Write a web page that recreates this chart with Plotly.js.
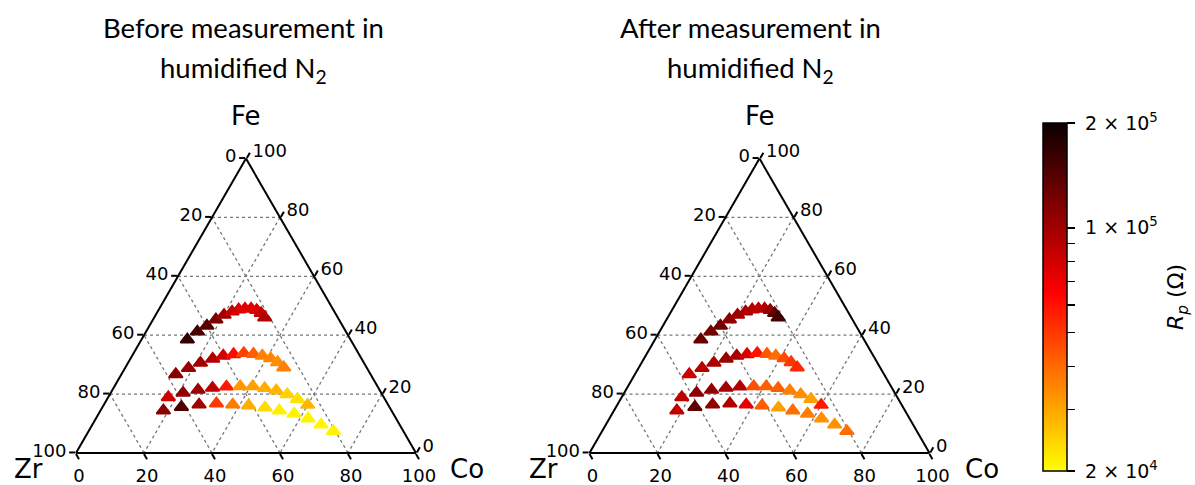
<!DOCTYPE html>
<html><head><meta charset="utf-8">
<script src="https://cdn.plot.ly/plotly-3.0.1.min.js"></script>
<style>html,body{margin:0;padding:0;background:#fff}#chart{width:1195px;height:485px}</style>
</head><body><div id="chart"></div>
<script>
// Compositions (at.%) of the 48 measured spots, rows from top arc to bottom arc
const feAt = [38.5, 41.2, 43.2, 45.3, 46.9, 48.0, 48.7, 49.0, 49.0, 48.5, 47.5, 46.0,
              26.7, 28.8, 30.6, 32.0, 33.0, 33.5, 33.9, 33.6, 33.0, 32.1, 30.8, 29.0,
              18.9, 20.4, 21.4, 22.1, 22.5, 22.6, 22.6, 22.0, 21.2, 19.9, 18.3, 16.3,
              14.4, 15.6, 16.4, 16.8, 16.4, 16.1, 15.4, 14.4, 13.3, 11.7, 9.6, 7.4];
const coAt = [13.5, 15.1, 16.9, 18.5, 20.1, 21.9, 23.5, 25.2, 27.0, 28.9, 30.7, 32.5,
              16.0, 18.7, 21.3, 24.2, 26.8, 29.6, 32.4, 35.4, 38.3, 41.2, 43.9, 46.6,
              17.7, 21.3, 25.2, 29.1, 33.0, 37.0, 40.7, 44.5, 48.3, 52.2, 56.0, 60.0,
              18.5, 23.2, 28.0, 32.9, 37.9, 42.7, 47.9, 52.6, 57.5, 62.4, 67.3, 72.0];
const zrAt = [48.0, 43.7, 39.9, 36.2, 33.0, 30.1, 27.8, 25.8, 24.0, 22.6, 21.8, 21.5,
              57.3, 52.5, 48.1, 43.8, 40.2, 36.9, 33.7, 31.0, 28.7, 26.7, 25.3, 24.4,
              63.4, 58.3, 53.4, 48.8, 44.5, 40.4, 36.7, 33.5, 30.5, 27.9, 25.7, 23.7,
              67.1, 61.2, 55.6, 50.3, 45.7, 41.2, 36.7, 33.0, 29.2, 25.9, 23.1, 20.6];
// Polarisation resistance Rp (ohm)
const rpBefore = [165000, 150000, 140000, 118000, 100000, 85000, 78000, 74000, 74000, 77000, 85000, 92000,
                  111000, 104000, 100000, 93000, 80000, 62000, 48000, 42000, 36000, 35000, 33500, 36000,
                  80000, 108000, 102000, 88000, 58000, 32000, 31000, 29000, 28000, 24500, 23000, 28000,
                  112000, 145000, 100000, 50000, 37000, 29000, 23500, 21500, 21000, 21000, 20800, 21000];
const rpAfter = [130000, 125000, 124000, 108000, 100000, 96000, 91000, 88000, 92000, 106000, 135000, 155000,
                 82000, 90000, 96000, 103000, 98000, 76000, 60000, 43000, 39000, 46000, 50000, 54000,
                 87000, 108000, 106000, 100000, 92000, 45000, 42000, 42000, 36000, 33500, 31000, 58000,
                 87000, 135000, 108000, 93000, 72000, 42000, 31000, 39000, 36000, 33000, 33000, 39000];
const axisTickVals = [0, 20, 40, 60, 80, 100];
const axisTickText = ['100', '80', '60', '40', '20', '0'];
const cbTickVals = [20000, 30000, 40000, 50000, 60000, 70000, 80000, 90000, 100000, 200000];
const cbTickText = ['2 × 10<sup>4</sup>', '', '', '', '', '', '', '', '1 × 10<sup>5</sup>', '2 × 10<sup>5</sup>'];
const titleLine1 = ['Before measurement in', 'After measurement in'];
const titleLine2 = 'humidified N<sub>2</sub>';
const cornerNames = ['Fe', 'Zr', 'Co'];
const cbTitle = '<i>R</i><sub><i>p</i></sub> (Ω)';

const F = 'DejaVu Sans';
function axis() {
  return {
    title: {text: ''},
    min: 0, linecolor: '#000', linewidth: 2,
    showgrid: true, gridcolor: '#777777', gridwidth: 1.3, griddash: 'dot',
    ticks: 'outside', ticklen: 6, tickwidth: 2, tickcolor: '#000',
    tickmode: 'array', tickvals: axisTickVals, ticktext: axisTickText,
    tickfont: {family: F, size: 18, color: '#000'}
  };
}
function tern(dx) {
  return {sum: 100, bgcolor: '#fff', domain: {x: dx, y: [0.0396, 0.6996]},
          aaxis: axis(), baxis: axis(), caxis: axis()};
}
function trace(rp, sub) {
  const v = rp.map(Math.log10);
  return {type: 'scatterternary', mode: 'markers', subplot: sub,
          a: feAt, b: zrAt, c: coAt,
          marker: {symbol: 'triangle-up', size: 12, color: v, coloraxis: 'coloraxis',
                   line: {width: 1.8, color: v, coloraxis: 'coloraxis'}},
          hoverinfo: 'skip'};
}
function ann(text, x, y, font, extra) {
  return Object.assign({text: text, x: x / 1195, y: 1 - y / 485, xref: 'paper', yref: 'paper',
          xanchor: 'center', yanchor: 'middle', showarrow: false, font: font}, extra || {});
}
const titleFont = {family: 'Lato', size: 27.5, color: '#000'};
const cornerFont = {family: F, size: 26, color: '#000'};
const layout = {
  width: 1195, height: 485, margin: {l: 0, r: 0, t: 0, b: 0},
  paper_bgcolor: '#fff', showlegend: false,
  ternary: tern([0.0636, 0.3481]),
  ternary2: tern([0.4933, 0.7778]),
  coloraxis: {
    cmin: Math.log10(20000), cmax: Math.log10(200000),
    colorscale: [[0, 'rgb(255,255,0)'], [0.511, 'rgb(255,0,0)'], [1, 'rgb(11,0,0)']],
    colorbar: {
      x: 0.8728, xanchor: 'left', xpad: 0, ypad: 0,
      y: 0.3876, yanchor: 'middle', len: 348, lenmode: 'pixels', thickness: 24,
      outlinewidth: 1.5, outlinecolor: '#000',
      ticks: 'outside', ticklen: 8, tickwidth: 1.5, tickcolor: '#000',
      tickmode: 'array', tickvals: cbTickVals.map(Math.log10),
      ticktext: cbTickText.map(t => t ? '\u00a0' + t : t),
      tickfont: {family: F, size: 19, color: '#000'},
      title: {text: ''}
    }
  },
  annotations: [
    ann(titleLine1[0], 243, 27, titleFont),
    ann(titleLine2, 243, 70, titleFont),
    ann(titleLine1[1], 750, 27, titleFont),
    ann(titleLine2, 750, 70, titleFont),
    ann(cornerNames[0], 246, 116, cornerFont),
    ann(cornerNames[1], 28, 469, cornerFont),
    ann(cornerNames[2], 467, 469, cornerFont),
    ann(cornerNames[0], 760, 116, cornerFont),
    ann(cornerNames[1], 543, 469, cornerFont),
    ann(cornerNames[2], 982, 469, cornerFont),
    ann(cbTitle, 1177, 297, {family: F, size: 22, color: '#000'}, {textangle: -90})
  ]
};
Plotly.newPlot('chart', [trace(rpBefore, 'ternary'), trace(rpAfter, 'ternary2')], layout, {displayModeBar: false, staticPlot: true});
</script></body></html>
